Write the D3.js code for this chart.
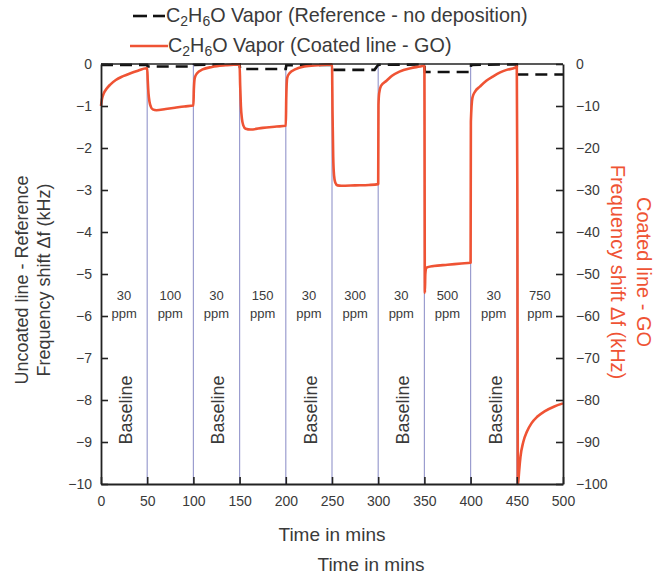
<!DOCTYPE html>
<html>
<head>
<meta charset="utf-8">
<script src="https://cdn.jsdelivr.net/npm/d3@7"></script>
<style>
  body { margin: 0; background: #fff; }
  text { font-family: "Liberation Sans", Arial, sans-serif; }
</style>
</head>
<body>
<svg id="chart" width="654" height="579"></svg>
<script>
// Time axis ticks (minutes) and the two frequency-shift axes (kHz)
const timeTicks = [0, 50, 100, 150, 200, 250, 300, 350, 400, 450, 500];
const leftTicks = [0, -1, -2, -3, -4, -5, -6, -7, -8, -9, -10];
const rightTicks = [0, -10, -20, -30, -40, -50, -60, -70, -80, -90, -100];

// Exposure windows: start time of each 50-minute interval and its concentration
const intervalStarts = [0, 50, 100, 150, 200, 250, 300, 350, 400, 450];
const concLabels = ["30", "100", "30", "150", "30", "300", "30", "500", "30", "750"];
const baselineStarts = [0, 100, 200, 300, 400];

// Coated line (GO) frequency shift, kHz (right axis)
const coatedTime = [
  0, 1, 3, 6, 10, 16, 24, 32, 40, 49,
  50, 50.6, 51.4, 52.5, 54, 56, 60, 70, 80, 90, 100,
  100.5, 101.5, 104, 110, 120, 135, 149,
  150, 150.6, 151.4, 152.5, 154, 156.5, 162, 175, 190, 200,
  200.5, 201.5, 204, 210, 220, 235, 249,
  250, 250.6, 251.3, 252.2, 253.5, 256, 260, 275, 290, 300,
  300.3, 301, 303, 309, 315, 323, 335, 345, 349.6,
  350, 350.5, 351, 352, 360, 375, 390, 400,
  400.3, 402, 405, 410, 417, 424, 432, 439, 448,
  450, 450.6, 451.2, 451.8, 452.5, 454, 457, 461, 466, 472, 480, 490, 500
];
const coatedShift = [
  -10, -8.4, -7, -5.9, -4.9, -3.8, -2.9, -2.2, -1.6, -1.0,
  -1.0, -4, -7, -9, -10.2, -10.8, -11, -10.7, -10.4, -10.1, -9.9,
  -6, -3.3, -2.2, -1.3, -0.7, -0.3, -0.1,
  -0.1, -5, -10, -13, -14.6, -15.4, -15.6, -15.2, -14.9, -14.7,
  -8, -3.3, -2.2, -1.3, -0.6, -0.3, -0.1,
  -0.1, -12, -22, -26.5, -28.2, -28.9, -29, -28.9, -28.8, -28.6,
  -9.8, -7, -5.2, -4.0, -2.8, -1.8, -1.0, -0.6, -0.4,
  -0.4, -54.5, -50, -48.5, -48.1, -47.8, -47.5, -47.3,
  -13.7, -8, -6.5, -5.4, -4, -3, -2, -1.4, -0.9,
  -0.6, -30, -100, -99, -97, -93.5, -90, -87.5, -85.5, -84, -82.7, -81.6, -80.8
];

// Uncoated reference line frequency shift, kHz (left axis)
const refTime = [0, 50, 50.5, 100, 100.5, 150, 150.5, 200, 200.5, 250, 250.5, 296, 300, 350, 350.5, 400, 400.5, 450, 450.5, 500];
const refShift = [-0.02, -0.02, -0.06, -0.06, -0.02, -0.01, -0.12, -0.12, -0.03, -0.02, -0.14, -0.14, -0.02, -0.01, -0.19, -0.19, -0.02, -0.01, -0.25, -0.25];

const svg = d3.select("#chart");
const m = { left: 101, right: 563, top: 64, bottom: 484 };
const RED = "#ef5334";
const INK = "#3a3a3a";

const x = d3.scaleLinear().domain([0, 500]).range([m.left, m.right]);
const yL = d3.scaleLinear().domain([-10, 0]).range([m.bottom, m.top]);
const yR = d3.scaleLinear().domain([-100, 0]).range([m.bottom, m.top]);

// Interval separators
svg.append("g").selectAll("line")
  .data(intervalStarts.slice(1))
  .join("line")
  .attr("x1", d => x(d)).attr("x2", d => x(d))
  .attr("y1", m.top).attr("y2", m.bottom)
  .attr("stroke", "#9b9dcf").attr("stroke-width", 1.2);

// Concentration labels
const conc = svg.append("g").attr("font-size", 13).attr("fill", INK).attr("text-anchor", "middle");
intervalStarts.forEach((s, i) => {
  const cx = x(s + 25);
  conc.append("text").attr("x", cx).attr("y", 300).text(concLabels[i]);
  conc.append("text").attr("x", cx).attr("y", 318).text("ppm");
});

// Baseline labels
svg.append("g").selectAll("text")
  .data(baselineStarts)
  .join("text")
  .attr("transform", d => `translate(${x(d + 27) + 6},410) rotate(-90)`)
  .attr("text-anchor", "middle")
  .attr("font-size", 18)
  .attr("fill", INK)
  .text("Baseline");

// Reference (uncoated) trace
const refData = refTime.map((t, i) => [t, refShift[i]]);
svg.append("path")
  .datum(refData)
  .attr("fill", "none")
  .attr("stroke", "#111")
  .attr("stroke-width", 2.6)
  .attr("stroke-dasharray", "12,7")
  .attr("d", d3.line().x(d => x(d[0])).y(d => yL(d[1])));

// Coated (GO) trace
const coatedData = coatedTime.map((t, i) => [t, coatedShift[i]]);
svg.append("path")
  .datum(coatedData)
  .attr("fill", "none")
  .attr("stroke", RED)
  .attr("stroke-width", 2.6)
  .attr("stroke-linejoin", "round")
  .attr("d", d3.line().curve(d3.curveMonotoneX).x(d => x(d[0])).y(d => yR(d[1])));

// Frame
svg.append("line").attr("x1", m.left).attr("x2", m.right).attr("y1", m.top).attr("y2", m.top)
  .attr("stroke", "#222").attr("stroke-width", 1.5);

// Axes with inward ticks
const styleAxis = g => {
  g.selectAll(".domain").attr("stroke", "#222").attr("stroke-width", 1.8);
  g.selectAll(".tick line").attr("stroke", "#222").attr("stroke-width", 1.6);
  g.selectAll(".tick text").attr("font-size", 14).attr("fill", INK)
    .attr("font-family", "'Liberation Sans', Arial, sans-serif");
};

svg.append("g")
  .attr("transform", `translate(0,${m.bottom})`)
  .call(d3.axisBottom(x).tickValues(timeTicks).tickSize(-7).tickSizeOuter(0).tickPadding(12))
  .call(styleAxis);

svg.append("g")
  .attr("transform", `translate(${m.left},0)`)
  .call(d3.axisLeft(yL).tickValues(leftTicks).tickSize(-7).tickSizeOuter(0).tickPadding(9).tickFormat(d3.format("d")))
  .call(styleAxis);

svg.append("g")
  .attr("transform", `translate(${m.right},0)`)
  .call(d3.axisRight(yR).tickValues(rightTicks).tickSize(-7).tickSizeOuter(0).tickPadding(13).tickFormat(d3.format("d")))
  .call(styleAxis);

// Axis titles
const lt = svg.append("g").attr("font-size", 18).attr("fill", INK).attr("text-anchor", "middle");
lt.append("text").attr("transform", "translate(28,280) rotate(-90)").text("Uncoated line - Reference");
lt.append("text").attr("transform", "translate(50,280) rotate(-90)").text("Frequency shift Δf (kHz)");

const rt = svg.append("g").attr("font-size", 20).attr("fill", RED).attr("text-anchor", "middle");
rt.append("text").attr("transform", "translate(637,272) rotate(90)").text("Coated line - GO");
rt.append("text").attr("transform", "translate(611,272) rotate(90)").text("Frequency shift Δf (kHz)");

const bt = svg.append("g").attr("font-size", 19).attr("fill", INK).attr("text-anchor", "middle");
bt.append("text").attr("x", 332).attr("y", 541).text("Time in mins");
bt.append("text").attr("x", 371).attr("y", 571).text("Time in mins");

// Legend
const legend = svg.append("g").attr("font-size", 19.8).attr("fill", INK);
function formulaLabel(g, xPos, yPos, rest) {
  const t = g.append("text").attr("x", xPos).attr("y", yPos);
  t.append("tspan").text("C");
  t.append("tspan").attr("font-size", 14).attr("dy", 4).text("2");
  t.append("tspan").attr("dy", -4).text("H");
  t.append("tspan").attr("font-size", 14).attr("dy", 4).text("6");
  t.append("tspan").attr("dy", -4).text("O" + rest);
}
legend.append("line").attr("x1", 133).attr("x2", 147).attr("y1", 16).attr("y2", 16)
  .attr("stroke", "#111").attr("stroke-width", 2.6);
legend.append("line").attr("x1", 153).attr("x2", 165).attr("y1", 16).attr("y2", 16)
  .attr("stroke", "#111").attr("stroke-width", 2.6);
formulaLabel(legend, 166, 22, " Vapor (Reference - no deposition)");
legend.append("line").attr("x1", 130).attr("x2", 168).attr("y1", 46).attr("y2", 46)
  .attr("stroke", RED).attr("stroke-width", 2.6);
formulaLabel(legend, 168, 52, " Vapor (Coated line - GO)");
</script>
</body>
</html>
